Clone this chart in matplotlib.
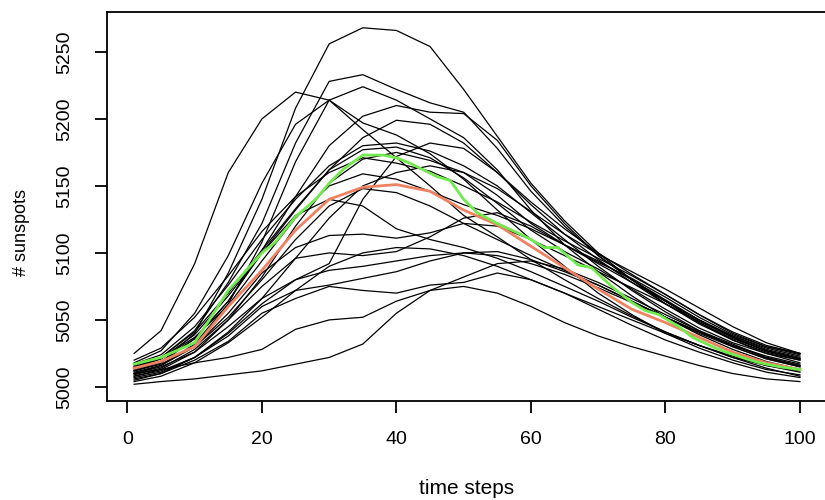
import matplotlib
matplotlib.use("Agg")
import matplotlib.pyplot as plt

plt.rcParams['font.family'] = ['Liberation Sans', 'DejaVu Sans']

steps = [1, 5, 10, 15, 20, 25, 30, 35, 40, 45, 50, 55, 60, 65, 70, 75, 80, 85, 90, 95, 100]

runs = [
    [5012, 5018, 5040, 5085, 5140, 5208, 5256, 5268, 5266, 5254, 5222, 5187, 5152, 5124, 5100, 5080, 5062, 5047, 5035, 5026, 5020],
    [5025, 5042, 5092, 5160, 5200, 5220, 5214, 5197, 5188, 5174, 5155, 5132, 5110, 5090, 5070, 5054, 5040, 5029, 5020, 5013, 5009],
    [5015, 5022, 5042, 5078, 5122, 5182, 5228, 5233, 5222, 5212, 5205, 5178, 5146, 5120, 5098, 5080, 5064, 5048, 5035, 5025, 5018],
    [5010, 5016, 5032, 5062, 5108, 5168, 5214, 5224, 5214, 5200, 5186, 5162, 5132, 5106, 5086, 5068, 5052, 5039, 5028, 5019, 5013],
    [5018, 5027, 5055, 5098, 5152, 5196, 5214, 5192, 5171, 5150, 5128, 5112, 5095, 5080, 5066, 5053, 5041, 5031, 5022, 5016, 5011],
    [5012, 5018, 5036, 5064, 5102, 5142, 5180, 5202, 5210, 5205, 5204, 5184, 5150, 5122, 5098, 5080, 5064, 5050, 5038, 5029, 5023],
    [5016, 5022, 5041, 5070, 5102, 5133, 5162, 5186, 5199, 5196, 5182, 5160, 5136, 5114, 5095, 5078, 5062, 5048, 5036, 5027, 5021],
    [5014, 5021, 5039, 5068, 5100, 5132, 5162, 5177, 5179, 5171, 5156, 5137, 5117, 5101, 5088, 5073, 5058, 5044, 5033, 5025, 5020],
    [5008, 5013, 5026, 5050, 5082, 5120, 5152, 5170, 5175, 5169, 5160, 5143, 5122, 5106, 5093, 5081, 5067, 5052, 5039, 5030, 5024],
    [5020, 5029, 5052, 5083, 5116, 5142, 5160, 5171, 5167, 5161, 5150, 5138, 5123, 5109, 5096, 5083, 5069, 5054, 5040, 5030, 5025],
    [5006, 5010, 5022, 5041, 5066, 5096, 5126, 5150, 5160, 5165, 5160, 5148, 5131, 5114, 5099, 5086, 5073, 5059, 5045, 5033, 5025],
    [5015, 5021, 5037, 5061, 5094, 5126, 5150, 5159, 5155, 5146, 5136, 5128, 5118, 5106, 5094, 5080, 5065, 5050, 5037, 5027, 5021],
    [5013, 5019, 5036, 5064, 5100, 5128, 5140, 5135, 5118, 5110, 5104, 5096, 5086, 5075, 5064, 5052, 5041, 5031, 5023, 5016, 5012],
    [5011, 5016, 5030, 5055, 5085, 5104, 5113, 5114, 5111, 5115, 5122, 5120, 5110, 5098, 5086, 5074, 5062, 5049, 5037, 5027, 5021],
    [5009, 5014, 5028, 5050, 5075, 5096, 5100, 5098, 5101, 5112, 5126, 5130, 5120, 5106, 5092, 5078, 5064, 5050, 5038, 5028, 5022],
    [5010, 5015, 5026, 5045, 5066, 5080, 5087, 5090, 5094, 5098, 5100, 5098, 5092, 5084, 5074, 5063, 5052, 5041, 5031, 5022, 5016],
    [5007, 5011, 5022, 5038, 5060, 5072, 5076, 5081, 5086, 5094, 5100, 5101, 5095, 5086, 5076, 5064, 5052, 5040, 5030, 5021, 5015],
    [5005, 5010, 5020, 5034, 5055, 5066, 5075, 5072, 5070, 5076, 5078, 5085, 5080, 5070, 5058, 5046, 5035, 5026, 5018, 5011, 5007],
    [5010, 5013, 5018, 5022, 5028, 5043, 5050, 5052, 5064, 5072, 5082, 5092, 5094, 5088, 5078, 5066, 5054, 5042, 5032, 5022, 5016],
    [5002, 5004, 5006, 5009, 5012, 5017, 5022, 5032, 5055, 5072, 5075, 5070, 5060, 5048, 5038, 5030, 5023, 5016, 5010, 5006, 5004],
    [5008, 5012, 5022, 5040, 5062, 5080, 5092, 5140, 5172, 5182, 5178, 5160, 5138, 5118, 5100, 5084, 5069, 5054, 5041, 5031, 5025],
    [5012, 5017, 5030, 5052, 5080, 5110, 5135, 5148, 5145, 5135, 5122, 5110, 5098, 5087, 5076, 5064, 5052, 5041, 5031, 5023, 5017],
    [5004, 5008, 5018, 5033, 5052, 5072, 5090, 5100, 5104, 5103, 5098, 5090, 5080, 5070, 5060, 5050, 5040, 5031, 5022, 5014, 5008],
    [5017, 5024, 5045, 5076, 5110, 5140, 5165, 5180, 5182, 5176, 5165, 5150, 5130, 5110, 5090, 5072, 5056, 5042, 5030, 5021, 5015],
]

mean_steps = [1, 5, 10, 15, 20, 25, 30, 35, 40, 45, 50, 55, 60, 65, 70, 75, 80, 85, 90, 95, 100]
mean_vals = [5014, 5019, 5030, 5060, 5087, 5117, 5140, 5149, 5151, 5146, 5132, 5121, 5105, 5089, 5073, 5058, 5048, 5037, 5026, 5018, 5013]

green_steps = [1, 5, 10, 15, 20, 22, 25, 28, 30, 32, 35, 38, 40, 42, 44, 46, 48, 50, 52, 55, 58, 60, 62, 64,
               67, 69, 72, 75, 77, 79, 82, 84, 87, 89, 92, 94, 97, 100]
green_vals = [5017, 5022, 5033, 5072, 5100, 5108, 5127, 5140, 5152, 5162, 5173, 5173, 5171, 5167, 5162, 5157, 5154,
              5140, 5130, 5122, 5115, 5110, 5104, 5104, 5091, 5089, 5075, 5063, 5057, 5054, 5045, 5037, 5030,
              5026, 5021, 5018, 5015, 5013]

fig = plt.figure(figsize=(8.25, 5.0), dpi=100)
ax = fig.add_axes([0.1303, 0.198, 0.8716, 0.7786])

for r in runs:
    ax.plot(steps, r, color='black', lw=0.9)
ax.plot(mean_steps, mean_vals, color='#ee8262', lw=2.0)
ax.plot(green_steps, green_vals, color='#70ea4c', lw=2.0)

ax.set_xlim(-2.96, 103.96)
ax.set_ylim(4989.5, 5280)
ax.set_xticks([0, 20, 40, 60, 80, 100])
ax.set_yticks([5000, 5050, 5100, 5150, 5200, 5250])
for s in ax.spines.values():
    s.set_linewidth(1.3)
ax.tick_params(axis='both', direction='out', length=8.5, width=1.3, labelsize=14)
ax.tick_params(axis='x', pad=13)
ax.tick_params(axis='y', pad=16)
for lab in ax.get_yticklabels():
    lab.set_rotation(90)
    lab.set_va('center')

fig.text(467 / 825, 1 - 488 / 500, 'time steps', ha='center', va='center', fontsize=15)
fig.text(22 / 825, 1 - 232 / 500, '# sunspots', ha='center', va='center', rotation=90, fontsize=13)

fig.savefig('out.png', dpi=100)
